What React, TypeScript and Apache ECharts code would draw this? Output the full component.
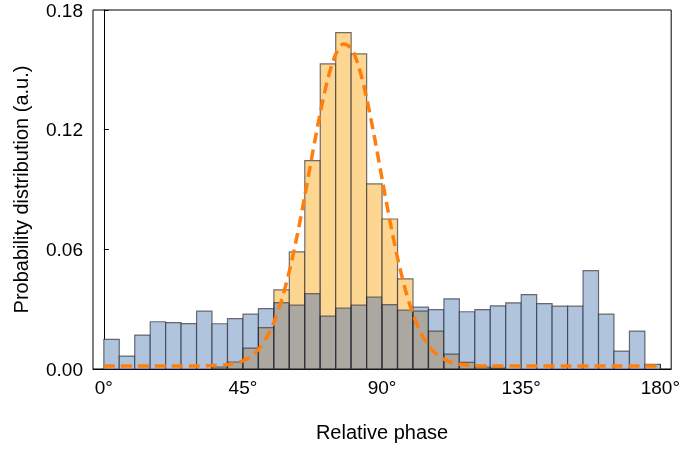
import React, { useEffect, useRef } from "react";
import * as echarts from "echarts";

// Histogram bins: 5° wide from 0° to 180°
const binWidth = 5;
const blueValues = [
  0.0149, 0.0065, 0.017, 0.0237, 0.0233, 0.0228, 0.029, 0.0227, 0.0253, 0.0275,
  0.0303, 0.0333, 0.032, 0.0378, 0.0265, 0.0305, 0.032, 0.036, 0.0323, 0.0295,
  0.031, 0.0298, 0.0352, 0.0287, 0.0298, 0.0317, 0.0332, 0.0373, 0.0328, 0.0315,
  0.0315, 0.0493, 0.0275, 0.009, 0.019, 0.0023,
];
const orangeValues = [
  0, 0, 0, 0, 0, 0, 0, 0.001, 0.0035, 0.0105,
  0.0207, 0.0397, 0.0587, 0.1045, 0.153, 0.1687, 0.158, 0.0928, 0.0752, 0.0452,
  0.029, 0.019, 0.0075, 0.0033, 0.001, 0.0005, 0, 0, 0, 0,
  0, 0, 0, 0, 0, 0,
];
// Dashed fit curve
const curveX = [
  0, 10, 20, 30, 35, 40, 45, 47.5, 50, 52.5, 55, 57.5, 60, 62.5, 65, 67.5, 70, 72.5,
  75, 77.5, 80, 82.5, 85, 87.5, 90, 92.5, 95, 97.5, 100, 102.5, 105, 107.5, 110,
  112.5, 115, 120, 125, 135, 150, 165, 180,
];
const curveY = [
  0.0015, 0.0015, 0.0015, 0.0015, 0.0017, 0.0022, 0.0041, 0.0063, 0.0098, 0.0153,
  0.0234, 0.0345, 0.049, 0.0667, 0.0868, 0.1081, 0.1284, 0.1457, 0.1578, 0.163,
  0.1608, 0.1513, 0.1359, 0.1165, 0.0953, 0.0745, 0.0557, 0.0399, 0.0274, 0.0182,
  0.0118, 0.0075, 0.0049, 0.0033, 0.0024, 0.0017, 0.0015, 0.0015, 0.0015, 0.0015,
  0.0015,
];
const xTicks = [0, 45, 90, 135, 180];

const BLUE = "#b0c4de";
const ORANGE = "#fdd692";
const GRAY = "#aaa8a0";
const EDGE = "rgba(40,40,50,0.65)";
const FONT = "Liberation Sans, Arial, sans-serif";

export default function App() {
  const ref = useRef<HTMLDivElement>(null);
  useEffect(() => {
    if (!ref.current) return;
    const chart = echarts.init(ref.current, undefined, { renderer: "svg" });
    const histData = blueValues.map((b, i) => [i * binWidth, (i + 1) * binWidth, b, orangeValues[i]]);
    const lineData = curveX.map((x, i) => [x, curveY[i]]);
    chart.setOption({
      animation: false,
      grid: {
        left: 93,
        right: 10,
        top: 10,
        bottom: 81,
        show: true,
        borderColor: "#000",
        borderWidth: 1,
        backgroundColor: "transparent",
      },
      xAxis: {
        type: "value",
        min: -3.5,
        max: 183.5,
        name: "Relative phase",
        nameLocation: "middle",
        nameGap: 53,
        nameTextStyle: { fontSize: 20, color: "#000", fontFamily: FONT },
        axisLine: { show: true, onZero: false, lineStyle: { color: "#000", width: 1 } },
        axisTick: { show: true, inside: true, length: 5, customValues: xTicks, lineStyle: { color: "#000" } },
        axisLabel: {
          customValues: xTicks,
          formatter: (v: number) => `${v}°`,
          fontSize: 19,
          color: "#000",
          fontFamily: FONT,
          margin: 9,
        },
        splitLine: { show: false },
      },
      yAxis: {
        type: "value",
        min: 0,
        max: 0.18,
        interval: 0.06,
        name: "Probability distribution (a.u.)",
        nameLocation: "middle",
        nameGap: 62,
        nameTextStyle: { fontSize: 20, color: "#000", fontFamily: FONT },
        axisLine: { show: true, lineStyle: { color: "#000", width: 1 } },
        axisTick: { show: true, inside: true, length: 5, lineStyle: { color: "#000" } },
        axisLabel: {
          formatter: (v: number) => v.toFixed(2),
          fontSize: 19,
          color: "#000",
          fontFamily: FONT,
          margin: 10,
        },
        splitLine: { show: false },
      },
      series: [
        {
          type: "custom",
          data: histData,
          z: 2,
          renderItem: (params: any, api: any) => {
            const x0 = api.value(0);
            const x1 = api.value(1);
            const b = api.value(2);
            const o = api.value(3);
            const lo = Math.min(b, o);
            const hi = Math.max(b, o);
            const base = api.coord([x0, 0]);
            const pLo = api.coord([x1, lo]);
            const pHi = api.coord([x1, hi]);
            const pB = api.coord([x1, b]);
            const pO = api.coord([x1, o]);
            const w = pLo[0] - base[0];
            const children: any[] = [];
            if (lo > 0) {
              children.push({
                type: "rect",
                shape: { x: base[0], y: pLo[1], width: w, height: base[1] - pLo[1] },
                style: { fill: GRAY },
              });
            }
            if (hi > lo) {
              children.push({
                type: "rect",
                shape: { x: base[0], y: pHi[1], width: w, height: pLo[1] - pHi[1] },
                style: { fill: b > o ? BLUE : ORANGE },
              });
            }
            if (b > 0) {
              children.push({
                type: "rect",
                shape: { x: base[0], y: pB[1], width: w, height: base[1] - pB[1] },
                style: { fill: "none", stroke: EDGE, lineWidth: 1.2 },
              });
            }
            if (o > 0) {
              children.push({
                type: "rect",
                shape: { x: base[0], y: pO[1], width: w, height: base[1] - pO[1] },
                style: { fill: "none", stroke: EDGE, lineWidth: 1.2 },
              });
            }
            return { type: "group", children };
          },
        },
        {
          type: "line",
          data: lineData,
          z: 5,
          smooth: 0.3,
          symbol: "none",
          lineStyle: { color: "#ff7f0e", width: 3.5, type: [11, 6] },
        },
      ],
    });
    return () => chart.dispose();
  }, []);
  return (
    <div
      ref={ref}
      style={{ position: "fixed", left: 0, top: 0, width: 683, height: 450 }}
    />
  );
}
